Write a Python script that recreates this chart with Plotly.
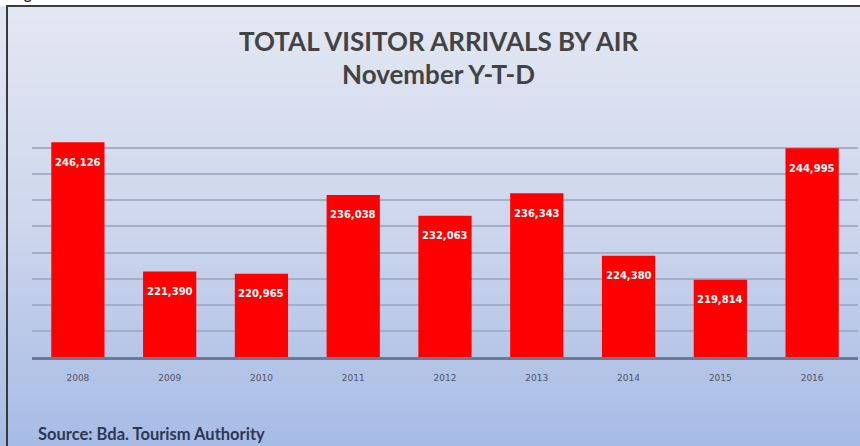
import plotly.graph_objects as go

# Visitor arrivals by air, November year-to-date
years = ["2008", "2009", "2010", "2011", "2012", "2013", "2014", "2015", "2016"]
arrivals = [246126, 221390, 220965, 236038, 232063, 236343, 224380, 219814, 244995]
positions = list(range(len(years)))

W, H = 860, 446
L, R, T, B = 32, 2, 122, 89          # plot-area margins in pixels
PW, PH = W - L - R, H - T - B


def px_x(px):
    return (px - L) / PW


def px_y(py):
    return (H - B - py) / PH


def mix(c0, c1, t):
    return "rgb({},{},{})".format(*[round(a + (b - a) * t) for a, b in zip(c0, c1)])


top_col = (228, 232, 243)
mid_col = (205, 214, 236)
bot_col = (166, 187, 229)

shapes = []
# vertical background gradient built from thin strips
step = 4
for py in range(0, H + step, step):
    t = py / H
    if t < 0.5:
        col = mix(top_col, mid_col, t / 0.5)
    else:
        col = mix(mid_col, bot_col, (t - 0.5) / 0.5)
    shapes.append(dict(type="rect", xref="paper", yref="paper", layer="below",
                       x0=px_x(-5), x1=px_x(W + 5), y0=px_y(py + step + 1), y1=px_y(py),
                       line=dict(width=0), fillcolor=col))
# outer frame
shapes.append(dict(type="rect", xref="paper", yref="paper", layer="above",
                   x0=px_x(7), x1=px_x(W + 20), y0=px_y(H + 20), y1=px_y(6),
                   line=dict(color="#3a3a3a", width=2), fillcolor="rgba(0,0,0,0)"))
# white strip above the frame
shapes.append(dict(type="rect", xref="paper", yref="paper", layer="below",
                   x0=px_x(-5), x1=px_x(W + 5), y0=px_y(6), y1=px_y(-5),
                   line=dict(width=0), fillcolor="white"))

fig = go.Figure()
fig.add_trace(go.Bar(
    x=positions, y=arrivals, width=0.58,
    marker=dict(color="#ff0000", line=dict(width=0)),
    hoverinfo="skip",
))

annotations = []
for xi, v in zip(positions, arrivals):
    annotations.append(dict(x=xi, y=v, xref="x", yref="y", text=f"<b>{v:,}</b>",
                            showarrow=False, yanchor="middle", yshift=-20,
                            font=dict(family="DejaVu Sans", size=10, color="white")))

annotations += [
    dict(x=px_x(438), y=px_y(41), xref="paper", yref="paper", showarrow=False,
         yanchor="middle", text="<b>TOTAL VISITOR ARRIVALS BY AIR</b>",
         font=dict(family="Lato", size=26, color="#434343")),
    dict(x=px_x(438), y=px_y(74), xref="paper", yref="paper", showarrow=False,
         yanchor="middle", text="<b>November Y-T-D</b>",
         font=dict(family="Lato", size=26, color="#434343")),
    dict(x=px_x(36), y=px_y(434), xref="paper", yref="paper", showarrow=False,
         xanchor="left", yanchor="middle", text="<b>Source: Bda. Tourism Authority</b>",
         font=dict(family="Lato", size=16.5, color="#2e3853")),
    dict(x=px_x(22), y=px_y(-6), xref="paper", yref="paper", showarrow=False,
         yanchor="middle", text="<b>g</b>",
         font=dict(family="Lato", size=14, color="#222222")),
]

fig.update_layout(
    width=W, height=H,
    margin=dict(l=L, r=R, t=T, b=B),
    paper_bgcolor="white",
    plot_bgcolor="rgba(0,0,0,0)",
    showlegend=False,
    shapes=shapes,
    annotations=annotations,
    xaxis=dict(
        range=[-0.5, len(years) - 0.5],
        tickmode="array", tickvals=positions, ticktext=years,
        showline=True, linecolor="#6b7896", linewidth=3,
        showgrid=False, zeroline=False, ticks="",
        ticklabelstandoff=10,
        tickfont=dict(family="DejaVu Sans", size=9, color="#4e5566"),
        fixedrange=True,
    ),
    yaxis=dict(
        range=[205000, 250000], dtick=5000, tick0=205000,
        showticklabels=False, ticks="",
        showgrid=True, gridcolor="#a3aec8", gridwidth=2,
        zeroline=False, showline=False, fixedrange=True,
    ),
)

fig.write_html("out.html")
